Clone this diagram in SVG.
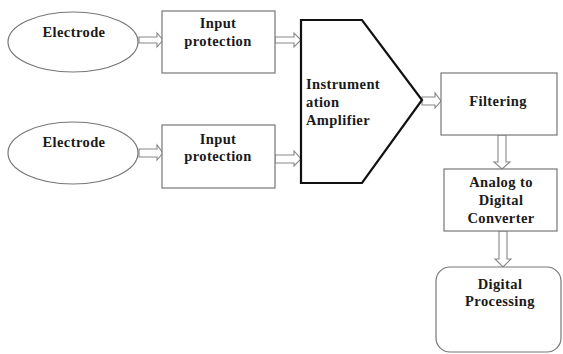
<svg xmlns="http://www.w3.org/2000/svg" width="563" height="354" viewBox="0 0 563 354">
<style>
.s{fill:#fff;stroke:#777;stroke-width:1.2}
.amp{fill:#fff;stroke:#111;stroke-width:2.2;stroke-linejoin:miter}
.t{font-family:"Liberation Serif",serif;font-weight:bold;font-size:14.5px;fill:#1a1a1a;letter-spacing:0.4px}
.c{text-anchor:middle}
.ar{fill:#fff;stroke:#888;stroke-width:1.1;stroke-linejoin:miter}
</style>
<rect width="563" height="354" fill="#fff"/>
<g id="connectors">
<path class="ar" d="M139,37 H157 V33 L163,40 L157,47 V43 H139 Z"/>
<path class="ar" d="M275,37 H294 V33 L301,40 L294,47 V43 H275 Z"/>
<path class="ar" d="M139,149 H157 V145 L163,153 L157,160 V157 H139 Z"/>
<path class="ar" d="M275,155 H294 V151 L301,159 L294,166 V163 H275 Z"/>
<path class="ar" d="M422,97 H435 V93 L441,101 L435,108 V105 H422 Z"/>
<path class="ar" d="M498,135 V162 H494 L502,169 L510,162 H506 V135 Z"/>
<path class="ar" d="M499,231 V259 H495 L503,267 L511,259 H507 V231 Z"/>
</g>
<g id="electrode1">
<ellipse class="s" cx="73" cy="42" rx="65" ry="30"/>
<text class="t c" x="74" y="37">Electrode</text>
</g>
<g id="input1">
<rect class="s" x="162" y="11" width="113" height="62"/>
<text class="t c" x="218" y="28">Input</text>
<text class="t c" x="218" y="46">protection</text>
</g>
<g id="electrode2">
<ellipse class="s" cx="73" cy="153" rx="65" ry="31"/>
<text class="t c" x="74" y="147">Electrode</text>
</g>
<g id="input2">
<rect class="s" x="162" y="125" width="113" height="63"/>
<text class="t c" x="218" y="144">Input</text>
<text class="t c" x="218" y="161">protection</text>
</g>
<g id="amplifier">
<path class="amp" d="M301,20 H362 L422,100 L362,183 H301 Z"/>
<text class="t" x="306" y="89">Instrument</text>
<text class="t" x="306" y="107">ation</text>
<text class="t" x="306" y="125">Amplifier</text>
</g>
<g id="filtering">
<rect class="s" x="441" y="73" width="116" height="62"/>
<text class="t c" x="498" y="106">Filtering</text>
</g>
<g id="adc">
<rect class="s" x="444" y="169" width="113" height="62"/>
<text class="t c" x="501" y="187">Analog to</text>
<text class="t c" x="501" y="205">Digital</text>
<text class="t c" x="501" y="223">Converter</text>
</g>
<g id="digital">
<rect class="s" x="436" y="267" width="125" height="85" rx="14" ry="14"/>
<text class="t c" x="500" y="289">Digital</text>
<text class="t c" x="500" y="306">Processing</text>
</g>
</svg>
